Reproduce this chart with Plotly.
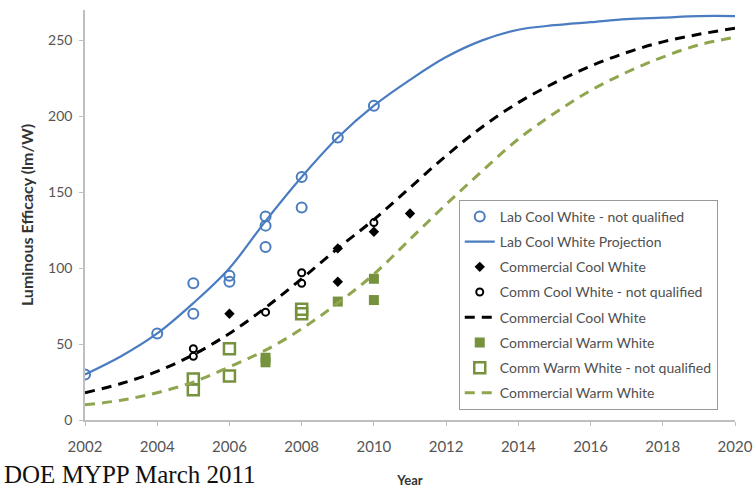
import plotly.graph_objects as go

years = list(range(2002, 2021))
lab_proj = [30, 42, 57, 77, 100, 131, 160, 186, 207, 224, 239, 250, 257, 260, 262, 264, 265, 266, 266]
cool_proj = [18, 24, 32, 43, 57, 74, 93, 113, 132, 153, 174, 193, 209, 222, 233, 242, 249, 254, 258]
warm_proj = [10, 13, 18, 25, 35, 46, 60, 77, 96, 119, 142, 164, 185, 202, 217, 229, 239, 247, 252]

lab_x = [2002, 2004, 2005, 2005, 2006, 2006, 2007, 2007, 2007, 2008, 2008, 2009, 2010]
lab_y = [30, 57, 90, 70, 95, 91, 134, 128, 114, 160, 140, 186, 207]

cc_x = [2006, 2009, 2009, 2010, 2011]
cc_y = [70, 113, 91, 124, 136]

ccnq_x = [2005, 2005, 2007, 2008, 2008, 2010]
ccnq_y = [47, 42, 71, 97, 90, 130]

cw_x = [2007, 2007, 2009, 2010, 2010]
cw_y = [41, 38, 78, 93, 79]

cwnq_x = [2005, 2005, 2006, 2006, 2008, 2008]
cwnq_y = [27, 20, 47, 29, 73, 70]

names = ["Lab Cool White - not qualified", "Lab Cool White Projection",
         "Commercial Cool White", "Comm Cool White - not qualified",
         "Commercial Cool White", "Commercial Warm White",
         "Comm Warm White - not qualified", "Commercial Warm White"]

BLUE = "#4a7cc0"
OLIVE = "#76923c"
GREEN_LINE = "#8fa64f"
FONT = "Lato, Open Sans, sans-serif"

fig = go.Figure()
fig.add_trace(go.Scatter(x=lab_x, y=lab_y, mode="markers", name=names[0], legendgroup="a",
                         marker=dict(symbol="circle-open", size=10, color=BLUE, line=dict(width=2, color=BLUE))))
fig.add_trace(go.Scatter(x=years, y=lab_proj, mode="lines", name=names[1], legendgroup="b",
                         line=dict(color=BLUE, width=2.2, shape="spline")))
fig.add_trace(go.Scatter(x=cc_x, y=cc_y, mode="markers", name=names[2], legendgroup="c",
                         marker=dict(symbol="diamond", size=8, color="black")))
fig.add_trace(go.Scatter(x=ccnq_x, y=ccnq_y, mode="markers", name=names[3], legendgroup="d",
                         marker=dict(symbol="circle-open", size=7, color="black", line=dict(width=2, color="black"))))
fig.add_trace(go.Scatter(x=years, y=cool_proj, mode="lines", name=names[4], legendgroup="e",
                         line=dict(color="black", width=3, dash="10px,7px", shape="spline")))
fig.add_trace(go.Scatter(x=cw_x, y=cw_y, mode="markers", name=names[5], legendgroup="f",
                         marker=dict(symbol="square", size=10, color=OLIVE)))
fig.add_trace(go.Scatter(x=cwnq_x, y=cwnq_y, mode="markers", name=names[6], legendgroup="g",
                         marker=dict(symbol="square-open", size=11, color=OLIVE, line=dict(width=2.5, color=OLIVE))))
fig.add_trace(go.Scatter(x=years, y=warm_proj, mode="lines", name=names[7], legendgroup="h",
                         line=dict(color=GREEN_LINE, width=3, dash="10px,7px", shape="spline")))

tick_font = dict(family=FONT, size=14, color="#555555")
fig.update_layout(
    width=756, height=488,
    margin=dict(l=85, r=21, t=10, b=68, autoexpand=False),
    paper_bgcolor="white", plot_bgcolor="white",
    showlegend=True,
    legend=dict(x=0.575, y=0.537, xanchor="left", yanchor="top",
                bordercolor="#9a9a9a", borderwidth=1, bgcolor="white",
                font=dict(family=FONT, size=14, color="#505050"),
                traceorder="grouped", tracegroupgap=4, itemwidth=30),
    xaxis=dict(range=[2002, 2020], tickvals=list(range(2002, 2021, 2)), automargin=False,
               showgrid=False, zeroline=False, showline=True, linecolor="#bfbfbf", linewidth=1.5,
               ticks="outside", ticklen=4, tickcolor="#bfbfbf", tickfont=dict(family=FONT, size=15, color="#555555"),
               ticklabelstandoff=8,
               title=dict(text="<b>Year</b>", font=dict(family=FONT, size=13, color="#333333"), standoff=22)),
    yaxis=dict(range=[0, 270], tickvals=[0, 50, 100, 150, 200, 250], automargin=False,
               showgrid=False, zeroline=False, showline=True, linecolor="#bfbfbf", linewidth=1.5,
               ticks="outside", ticklen=4, tickcolor="#bfbfbf", tickfont=tick_font,
               ticklabelstandoff=4,
               title=dict(text="<b>Luminous Efficacy (lm/W)</b>", font=dict(family=FONT, size=16, color="#333333"), standoff=10)),
)
fig.add_annotation(text="DOE MYPP March 2011", xref="paper", yref="paper",
                   x=-83/650, y=-70/410, xanchor="left", yanchor="bottom", showarrow=False,
                   font=dict(family="Liberation Serif, DejaVu Serif, serif", size=25, color="#111111"))
fig.write_html("out.html")
